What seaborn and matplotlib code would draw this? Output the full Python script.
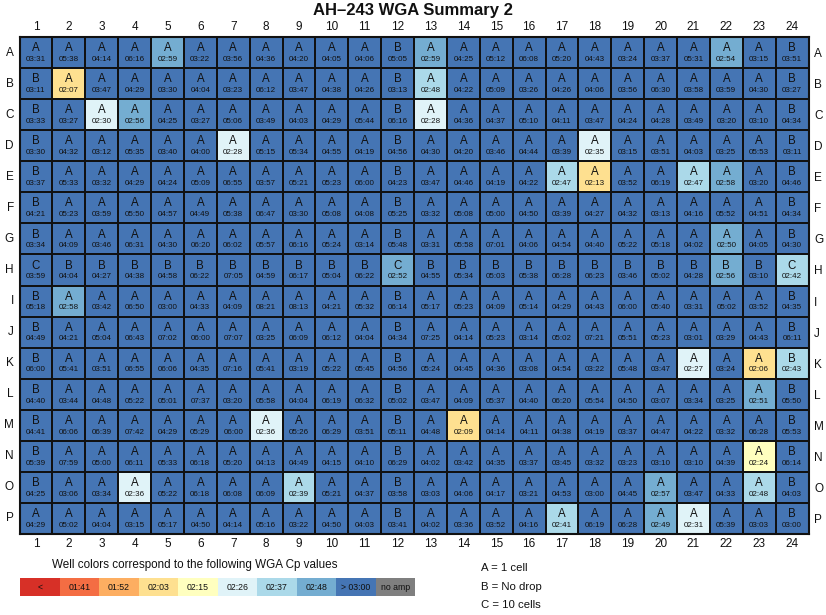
import numpy as np
import pandas as pd
import matplotlib
matplotlib.use("Agg")
import matplotlib.pyplot as plt
from matplotlib.colors import ListedColormap
from matplotlib.patches import Rectangle
import seaborn as sns

row_labels = list("ABCDEFGHIJKLMNOP")
col_labels = [str(i) for i in range(1, 25)]

well_letters = [
    "AAAAAAAAAAABAAAAAAAAAAAB",
    "BAAAAAAAAAABAAAAAAAAAAAB",
    "BAAAAAAAAAABAAAAAAAAAAAB",
    "BAAAAAAAAAABAAAAAAAAAAAB",
    "BAAAAAAAAAABAAAAAAAAAAAB",
    "BAAAAAAAAAABAAAAAAAAAAAB",
    "BAAAAAAAAAABAAAAAAAAAAAB",
    "CBBBBBBBBBBCBBBBBBBBBBBC",
    "BAAAAAAAAAABAAAAAAAAAAAB",
    "BAAAAAAAAAABAAAAAAAAAAAB",
    "BAAAAAAAAAABAAAAAAAAAAAB",
    "BAAAAAAAAAABAAAAAAAAAAAB",
    "BAAAAAAAAAABAAAAAAAAAAAB",
    "BAAAAAAAAAABAAAAAAAAAAAB",
    "BAAAAAAAAAABAAAAAAAAAAAB",
    "AAAAAAAAAAABAAAAAAAAAAAB",
]

well_times = [
    "03:31 05:38 04:14 06:16 02:59 03:22 03:56 04:36 04:20 04:05 04:06 05:05 02:59 04:25 05:12 06:08 05:20 04:43 03:24 03:37 05:31 02:54 03:15 03:51",
    "03:11 02:07 03:47 04:29 03:30 04:04 03:23 06:12 03:47 04:38 04:26 03:13 02:48 04:22 05:09 03:26 04:26 04:06 03:56 06:30 03:58 03:59 04:30 03:27",
    "03:33 03:27 02:30 02:56 04:25 03:27 05:06 03:49 04:03 04:29 05:44 06:16 02:28 04:36 04:37 05:10 04:11 03:47 04:24 04:28 03:49 03:20 03:10 04:34",
    "03:30 04:32 03:12 05:35 03:40 04:00 02:28 05:15 05:34 04:55 04:19 04:56 04:30 04:20 03:46 04:44 03:39 02:35 03:15 03:51 04:03 03:25 05:53 03:11",
    "03:37 05:33 03:32 04:29 04:24 05:09 06:55 03:57 05:21 05:23 06:00 04:23 03:47 04:46 04:19 04:22 02:47 02:13 03:52 06:19 02:47 02:58 03:20 04:46",
    "04:21 05:23 03:59 05:50 04:57 04:49 05:38 06:47 03:30 05:08 04:08 05:25 03:32 05:08 05:00 04:50 03:39 04:27 04:32 03:13 04:16 05:52 04:51 04:34",
    "03:34 04:09 03:46 06:31 04:30 06:20 06:02 05:57 06:16 05:24 03:14 05:48 03:31 05:58 07:01 04:06 04:54 04:40 05:22 05:18 04:02 02:50 04:05 04:30",
    "03:59 04:04 04:27 04:38 04:58 06:22 07:05 04:59 06:17 05:04 06:22 02:52 04:55 05:34 05:03 05:38 06:28 06:23 03:46 05:02 04:28 02:56 03:10 02:42",
    "05:18 02:58 03:42 06:50 03:00 04:33 04:09 08:21 08:13 04:21 05:32 06:14 05:17 05:23 04:09 05:14 04:29 04:43 06:00 05:40 03:31 05:02 03:52 04:35",
    "04:49 04:21 05:04 06:43 07:02 06:00 07:07 03:25 06:09 06:12 04:04 04:34 07:25 04:14 05:23 03:14 05:02 07:21 05:51 05:23 03:01 03:29 04:43 06:11",
    "06:00 05:41 03:51 06:55 06:06 04:35 07:16 05:41 03:19 05:22 05:45 04:56 05:24 04:45 04:36 03:08 04:54 03:22 05:48 03:47 02:27 03:24 02:06 02:43",
    "04:40 03:44 04:48 05:22 05:01 07:37 03:20 05:58 04:04 06:19 06:32 05:02 03:47 04:09 05:37 04:40 06:20 05:54 04:50 03:07 03:34 03:25 02:51 05:50",
    "04:41 06:06 06:39 07:42 04:29 05:29 06:00 02:36 05:26 06:29 03:51 05:11 04:48 02:09 04:14 04:11 04:38 04:19 03:37 04:47 04:22 03:32 06:28 05:53",
    "05:39 07:59 05:00 06:11 05:33 06:18 05:20 04:13 04:49 04:15 04:10 06:29 04:02 03:42 04:35 03:37 03:45 03:32 03:23 03:10 03:10 04:39 02:24 06:14",
    "04:25 03:06 03:34 02:36 05:22 06:18 06:08 06:09 02:39 05:21 04:37 03:58 03:03 04:06 04:17 03:21 04:53 03:00 04:45 02:57 03:47 04:33 02:48 04:03",
    "04:29 05:02 04:04 03:15 05:17 04:50 04:14 05:16 03:22 04:50 04:03 03:41 04:02 03:36 03:52 04:16 02:41 06:19 06:28 02:49 02:31 05:39 03:03 03:00",
]

legend_labels = ["<", "01:41", "01:52", "02:03", "02:15", "02:26", "02:37", "02:48", "> 03:00", "no amp"]
legend_colors = ["#d73027", "#f46d43", "#fdae61", "#fee090", "#ffffbf",
                 "#e0f3f8", "#abd9e9", "#74add1", "#4575b4", "#7f7f7f"]
bin_edges_sec = [101.25, 112.5, 123.75, 135.0, 146.25, 157.5, 168.75, 180.0]

code_labels = ["A = 1 cell", "B = No drop", "C = 10 cells"]

# ---------------------------------------------------------------
def to_sec(t):
    m, s = t.split(":")
    return int(m) * 60 + int(s)

times = [r.split() for r in well_times]
secs = np.array([[to_sec(t) for t in r] for r in times], dtype=float)
bins = np.digitize(secs, bin_edges_sec)
df = pd.DataFrame(bins, index=row_labels, columns=col_labels)

sns.set_theme(style="white")
plt.rcParams["font.family"] = ["Liberation Sans", "DejaVu Sans"]

W, H = 826, 615
fig = plt.figure(figsize=(W / 100, H / 100), dpi=100)

gl, gr, gt, gb = 19.5, 808.5, 37, 534
ax = fig.add_axes([gl / W, 1 - gb / H, (gr - gl) / W, (gb - gt) / H])
cmap = ListedColormap(legend_colors[:9])
sns.heatmap(df, cmap=cmap, vmin=-0.5, vmax=8.5, cbar=False,
            linewidths=1.4, linecolor="#111111", ax=ax)

for i in range(len(row_labels)):
    for j in range(len(col_labels)):
        ax.text(j + 0.5, i + 0.36, well_letters[i][j], ha="center", va="center",
                fontsize=8.3, color="#111111")
        ax.text(j + 0.5, i + 0.72, times[i][j], ha="center", va="center",
                fontsize=5.8, color="#111111")

ax.tick_params(axis="x", top=True, labeltop=True, bottom=True, labelbottom=True,
               length=0, pad=3, labelsize=8.5, colors="#111111")
ax.tick_params(axis="y", left=True, labelleft=True, right=True, labelright=True,
               length=0, pad=4, labelsize=8.5, colors="#111111")
ax.set_yticklabels(row_labels, rotation=0)
ax.set_xticklabels(col_labels, rotation=0)
ax.set_xlabel("")
ax.set_ylabel("")
for sp in ax.spines.values():
    sp.set_visible(True)
    sp.set_color("#111111")
    sp.set_linewidth(1.5)

fig.text(0.5, 1 - 10 / H, "AH\u2013243 WGA Summary 2", ha="center", va="center",
         fontsize=12, fontweight="bold", color="#111111")

fig.text(52 / W, 1 - 565 / H, "Well colors correspond to the following WGA Cp values",
         ha="left", va="center", fontsize=8.4, color="#111111")

lax = fig.add_axes([20 / W, 1 - 596 / H, 395 / W, 18 / H])
lax.set_xlim(0, len(legend_labels))
lax.set_ylim(0, 1)
lax.axis("off")
for k, (lab, col) in enumerate(zip(legend_labels, legend_colors)):
    lax.add_patch(Rectangle((k, 0), 1, 1, facecolor=col, edgecolor="none"))
    lax.text(k + 0.5, 0.5, lab, ha="center", va="center", fontsize=6.3, color="#111111")

for k, lab in enumerate(code_labels):
    fig.text(481 / W, 1 - (568 + 18.5 * k) / H, lab, ha="left", va="center",
             fontsize=8.2, color="#111111")

fig.savefig("out.png", dpi=100)
